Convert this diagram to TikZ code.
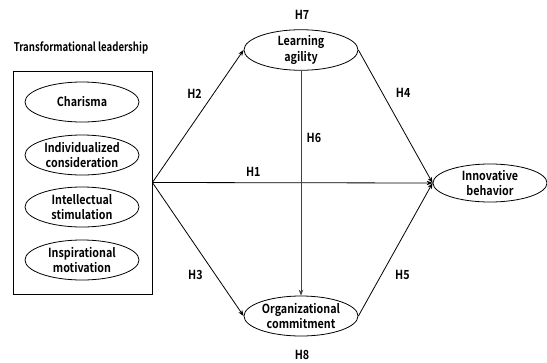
\documentclass[tikz,border=0pt]{standalone}
\usepackage{fontspec}
\setmainfont{Noto Sans CJK KR}[BoldFont={Noto Sans CJK KR Bold}]
\newfontfamily\condA{Noto Sans CJK KR Bold}[FakeStretch=0.86]
\newfontfamily\condB{Noto Sans CJK KR Bold}[FakeStretch=0.8]
\usetikzlibrary{arrows.meta,shapes.geometric}
\begin{document}
\begin{tikzpicture}[x=1pt,y=-1pt,
  oval/.style={draw,ellipse,minimum width=114pt,minimum height=40pt,inner sep=0pt,align=center,font=\condA\fontsize{12.5}{15.5}\selectfont, line width=0.8pt},
  lbl/.style={font=\condA\fontsize{12.5}{15}\selectfont},
  conn/.style={line width=0.8pt,-{Stealth[length=6pt,width=4.5pt]}}]
\useasboundingbox (0,0) rectangle (547,362);
\node[font=\condB\fontsize{12}{14}\selectfont] (title) at (81,48) {Transformational leadership};
\node[draw,line width=0.8pt,minimum width=139pt,minimum height=223pt,inner sep=0pt] (box) at (82.5,182.5) {};
\node[oval] (cha) at (82,102) {Charisma};
\node[oval] (ind) at (82,155) {Individualized\\consideration};
\node[oval] (int) at (82,207) {Intellectual\\stimulation};
\node[oval] (ins) at (82,260) {Inspirational\\motivation};
\node[oval] (la) at (301,50) {Learning\\agility};
\node[oval] (oc) at (301,316) {Organizational\\commitment};
\node[oval,minimum height=38pt] (ib) at (490,183) {Innovative\\behavior};
\node[lbl] (h7) at (302,15) {H7};
\node[lbl] (h8) at (302,355) {H8};
\coordinate (src) at (box.east);
\draw[conn] (src) -- (la.west) node[pos=0.67,lbl,left=8pt] (h2) {H2};
\draw[conn] (src) -- (oc.west) node[pos=0.69,lbl,left=9pt] (h3) {H3};
\draw[conn] (src) -- (ib.west) node[pos=0.36,lbl,above=2pt] (h1) {H1};
\draw[conn] (la.east) -- (ib.west) node[pos=0.32,lbl,right=10pt] (h4) {H4};
\draw[conn] (oc.east) -- (ib.west) node[pos=0.31,lbl,right=10pt] (h5) {H5};
\draw[conn,draw=black!75] (la.south) -- (oc.north) node[pos=0.3,lbl,right=2pt] (h6) {H6};
\end{tikzpicture}
\end{document}
